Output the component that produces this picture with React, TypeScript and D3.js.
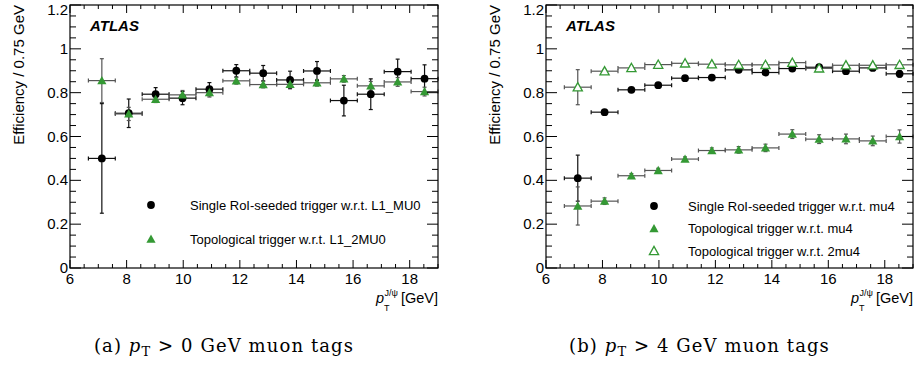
import React from "react";
import * as d3 from "d3";

// ---- data ----
const binCenters = [7.125, 8.075, 9.025, 9.975, 10.925, 11.875, 12.825, 13.775, 14.725, 15.675, 16.625, 17.575, 18.525];
const binHalfWidth = 0.475;

// (a) pT > 0 GeV muon tags
const aSingleEff = [0.5, 0.706, 0.793, 0.775, 0.816, 0.9, 0.889, 0.858, 0.899, 0.764, 0.793, 0.896, 0.864];
const aSingleErr = [0.25, 0.065, 0.03, 0.03, 0.03, 0.028, 0.035, 0.04, 0.043, 0.07, 0.07, 0.057, 0.063];
const aTopoEff = [0.855, 0.703, 0.77, 0.79, 0.8, 0.854, 0.837, 0.838, 0.845, 0.863, 0.831, 0.849, 0.805];
const aTopoErr = [0.1, 0.03, 0.015, 0.02, 0.02, 0.015, 0.015, 0.015, 0.015, 0.015, 0.02, 0.02, 0.02];

// (b) pT > 4 GeV muon tags
const bSingleEff = [0.41, 0.711, 0.813, 0.834, 0.866, 0.869, 0.904, 0.892, 0.91, 0.916, 0.898, 0.913, 0.886];
const bSingleErr = [0.105, 0.008, 0.008, 0.008, 0.008, 0.008, 0.008, 0.008, 0.008, 0.008, 0.008, 0.01, 0.015];
const bTopoEff = [0.283, 0.305, 0.421, 0.445, 0.497, 0.536, 0.539, 0.548, 0.611, 0.588, 0.589, 0.58, 0.6];
const bTopoErr = [0.087, 0.015, 0.01, 0.01, 0.01, 0.012, 0.015, 0.017, 0.02, 0.02, 0.022, 0.022, 0.03];
const bTopo2Eff = [0.825, 0.898, 0.913, 0.928, 0.934, 0.93, 0.927, 0.927, 0.937, 0.911, 0.925, 0.925, 0.927];
const bTopo2Err = [0.08, 0.008, 0.008, 0.008, 0.008, 0.008, 0.008, 0.008, 0.008, 0.008, 0.008, 0.008, 0.008];

const xTicks = [6, 8, 10, 12, 14, 16, 18];
const yTicks = [0, 0.2, 0.4, 0.6, 0.8, 1, 1.2];
const yTickLabels = ["0", "0.2", "0.4", "0.6", "0.8", "1", "1.2"];

const aLegend = ["Single RoI-seeded trigger w.r.t. L1_MU0", "Topological trigger w.r.t. L1_2MU0"];
const bLegend = ["Single RoI-seeded trigger w.r.t. mu4", "Topological trigger w.r.t. mu4", "Topological trigger w.r.t. 2mu4"];

const GREEN = "#349934";
const FONT = "'Liberation Sans', Arial, Helvetica, sans-serif";
const SERIF = "'DejaVu Serif', 'Liberation Serif', serif";

type Series = { eff: number[]; err: number[]; marker: "circle" | "tri" | "otri"; errColor: string };

function Marker({ kind, x, y }: { kind: string; x: number; y: number }) {
  if (kind === "circle") return <circle cx={x} cy={y} r={3.9} fill="#000" />;
  const s = 4.6;
  const pts = `${x},${y - s} ${x - s},${y + s * 0.8} ${x + s},${y + s * 0.8}`;
  if (kind === "tri") return <polygon points={pts} fill={GREEN} />;
  return <polygon points={pts} fill="#fff" stroke={GREEN} strokeWidth={1.3} />;
}

function Panel({ left, right, series, legend, legendX, legendY, legendDy, legendTextX, caption }: any) {
  const top = 5;
  const bottom = 268;
  const x = d3.scaleLinear().domain([6, 19]).range([left, right]);
  const y = d3.scaleLinear().domain([0, 1.2]).range([bottom, top]);
  const xMinor = d3.range(6, 19.01, 0.5);
  const yMinor = d3.range(0, 1.201, 0.05);
  const cap = 2;
  return (
    <g>
      {/* error bars */}
      {series.map((s: Series, si: number) => (
        <g key={"e" + si} stroke={s.errColor} strokeWidth={1.2}>
          {s.eff.map((v, i) => {
            const cx = x(binCenters[i]);
            const cy = y(v);
            const xl = x(binCenters[i] - binHalfWidth);
            const xr = x(binCenters[i] + binHalfWidth);
            const yt = y(v + s.err[i]);
            const yb = y(v - s.err[i]);
            return (
              <g key={i}>
                <line x1={xl} x2={xr} y1={cy} y2={cy} />
                <line x1={xl} x2={xl} y1={cy - cap} y2={cy + cap} />
                <line x1={xr} x2={xr} y1={cy - cap} y2={cy + cap} />
                <line x1={cx} x2={cx} y1={yt} y2={yb} />
                <line x1={cx - cap} x2={cx + cap} y1={yt} y2={yt} />
                <line x1={cx - cap} x2={cx + cap} y1={yb} y2={yb} />
              </g>
            );
          })}
        </g>
      ))}
      {/* markers */}
      {series.map((s: Series, si: number) => (
        <g key={"m" + si}>
          {s.eff.map((v, i) => (
            <Marker key={i} kind={s.marker} x={x(binCenters[i])} y={y(v)} />
          ))}
        </g>
      ))}
      {/* frame */}
      <rect x={left} y={top} width={right - left} height={bottom - top} fill="none" stroke="#000" strokeWidth={1.2} />
      {/* x ticks */}
      {xMinor.map((t) => {
        const major = Math.abs(t / 2 - Math.round(t / 2)) < 1e-6;
        const L = major ? 8 : 4;
        return (
          <g key={"xt" + t} stroke="#000" strokeWidth={1}>
            <line x1={x(t)} x2={x(t)} y1={bottom} y2={bottom - L} />
            <line x1={x(t)} x2={x(t)} y1={top} y2={top + L} />
          </g>
        );
      })}
      {/* y ticks */}
      {yMinor.map((t) => {
        const major = Math.abs(t / 0.2 - Math.round(t / 0.2)) < 1e-6;
        const L = major ? 11 : 6;
        return (
          <g key={"yt" + t} stroke="#000" strokeWidth={1}>
            <line x1={left} x2={left + L} y1={y(t)} y2={y(t)} />
            <line x1={right} x2={right - L} y1={y(t)} y2={y(t)} />
          </g>
        );
      })}
      {xTicks.map((t) => (
        <text key={"xl" + t} x={x(t)} y={284} textAnchor="middle" fontSize={15} fontFamily={FONT}>
          {t}
        </text>
      ))}
      {yTicks.map((t, i) => (
        <text key={"yl" + t} x={left - 2} y={Math.max(y(t) + 5, 15)} textAnchor="end" fontSize={15} fontFamily={FONT}>
          {yTickLabels[i]}
        </text>
      ))}
      {/* axis titles */}
      <text
        transform={`translate(${left - 46},${top}) rotate(-90)`}
        textAnchor="end"
        fontSize={15}
        fontFamily={FONT}
      >
        Efficiency / 0.75 GeV
      </text>
      <text x={right} y={303} textAnchor="end" fontSize={14.5} fontFamily={FONT} fill="#000">
        <tspan fontStyle="italic">p</tspan>
        <tspan fontSize={9} dy={8}>T</tspan>
        <tspan fontSize={9} dx={-5} dy={-15}>J/ψ</tspan>
        <tspan dx={3} dy={7}>[GeV]</tspan>
      </text>
      {/* ATLAS */}
      <text x={left + 20} y={31} fontSize={15} fontWeight="bold" fontStyle="italic" fontFamily={FONT}>
        ATLAS
      </text>
      {/* legend */}
      {legend.map((lab: string, i: number) => (
        <g key={"lg" + i}>
          <Marker kind={series[i].marker} x={legendX} y={legendY + i * legendDy} />
          <text x={legendTextX} y={legendY + i * legendDy + 4.5} fontSize={13} fontFamily={FONT}>
            {lab}
          </text>
        </g>
      ))}
      {/* caption */}
      <text
        x={(left + right) / 2 - 30}
        y={352}
        textAnchor="middle"
        fontSize={18}
        letterSpacing={1.1}
        fontFamily={SERIF}
      >
        {caption[0]}
        <tspan fontStyle="italic">p</tspan>
        <tspan fontSize={13} dy={4}>T</tspan>
        <tspan dy={-4}>{caption[1]}</tspan>
      </text>
    </g>
  );
}

export default function App() {
  const aSeries: Series[] = [
    { eff: aSingleEff, err: aSingleErr, marker: "circle", errColor: "#111" },
    { eff: aTopoEff, err: aTopoErr, marker: "tri", errColor: "#555" },
  ];
  const bSeries: Series[] = [
    { eff: bSingleEff, err: bSingleErr, marker: "circle", errColor: "#111" },
    { eff: bTopoEff, err: bTopoErr, marker: "tri", errColor: "#555" },
    { eff: bTopo2Eff, err: bTopo2Err, marker: "otri", errColor: "#555" },
  ];
  return (
    <svg width={919} height={365} style={{ position: "absolute", left: 0, top: 0, background: "#fff" }}>
      <Panel
        left={70}
        right={438}
        series={aSeries}
        legend={aLegend}
        legendX={151}
        legendY={205}
        legendDy={34}
        legendTextX={190}
        caption={["(a) ", " > 0 GeV muon tags"]}
      />
      <Panel
        left={546}
        right={913}
        series={bSeries}
        legend={bLegend}
        legendX={654}
        legendY={206}
        legendDy={22.5}
        legendTextX={688}
        caption={["(b) ", " > 4 GeV muon tags"]}
      />
    </svg>
  );
}
